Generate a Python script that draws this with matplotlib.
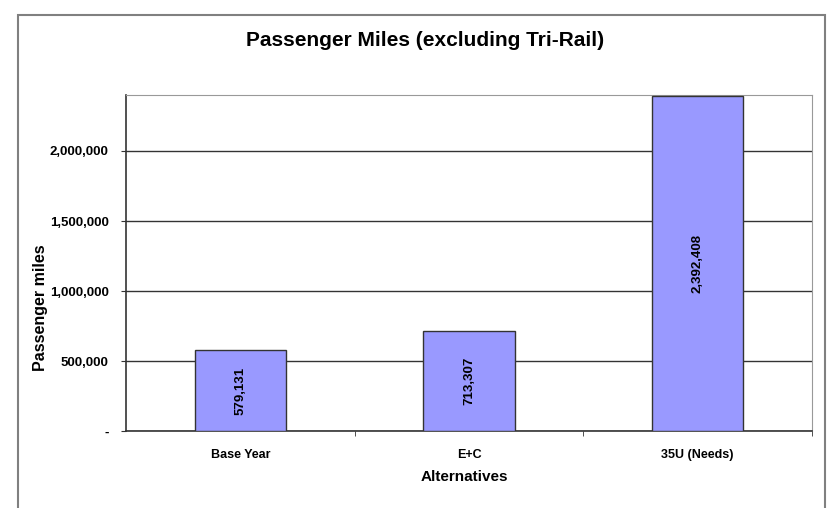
import matplotlib.pyplot as plt
from matplotlib.patches import Rectangle

# chart data
categories = ['Base Year', 'E+C', '35U (Needs)']
passenger_miles = [579131, 713307, 2392408]
y_ticks = [0, 500000, 1000000, 1500000, 2000000]
y_tick_labels = ['-', '500,000', '1,000,000', '1,500,000', '2,000,000']

plt.rcParams['font.family'] = ['Liberation Sans', 'DejaVu Sans']
plt.rcParams['font.weight'] = 'bold'

fig = plt.figure(figsize=(8.29, 5.08), dpi=100)

# outer chart border
fig.patches.append(Rectangle((18 / 829, -0.1), (825 - 18) / 829, 1.1 - 15 / 508,
                             transform=fig.transFigure, fill=False,
                             edgecolor='#808080', linewidth=1.5))

ax = fig.add_axes([126 / 829, (508 - 431) / 508, 686 / 829, 336 / 508])

x = list(range(len(categories)))
bars = ax.bar(x, passenger_miles, width=0.4, color='#9999FF',
              edgecolor='#333333', linewidth=1, zorder=3)

for xi, v in zip(x, passenger_miles):
    ax.text(xi, v / 2, f'{v:,}', rotation=90, ha='center', va='center',
            fontsize=9.5, fontweight='bold', zorder=4)

ax.set_xlim(-0.5, len(categories) - 0.5)
ax.set_ylim(0, 2400000)
ax.set_yticks(y_ticks)
ax.set_yticklabels(y_tick_labels, fontsize=9.5, fontweight='bold')
ax.yaxis.grid(True, color='#333333', linewidth=1, zorder=0)

ax.set_xticks(x)
ax.set_xticklabels(categories, fontsize=9, fontweight='bold')
ax.set_xticks([0.5, 1.5, 2.5], minor=True)
ax.tick_params(axis='x', which='major', length=0, pad=13)
ax.tick_params(axis='x', which='minor', length=3.5, direction='out', color='#333333')
ax.tick_params(axis='y', length=3.5, direction='out', color='#333333', pad=9)

for side in ['top', 'right']:
    ax.spines[side].set_color('#999999')
for side in ['left', 'bottom']:
    ax.spines[side].set_color('#333333')
    ax.spines[side].set_linewidth(1.2)

fig.text(425 / 829, 1 - 40 / 508, 'Passenger Miles (excluding Tri-Rail)',
         ha='center', va='center', fontsize=15, fontweight='bold')
fig.text(464 / 829, 1 - 477 / 508, 'Alternatives',
         ha='center', va='center', fontsize=11, fontweight='bold')
fig.text(41 / 829, 1 - 308 / 508, 'Passenger miles', rotation=90,
         ha='center', va='center', fontsize=11.5, fontweight='bold')

fig.savefig('out.png', dpi=100)
